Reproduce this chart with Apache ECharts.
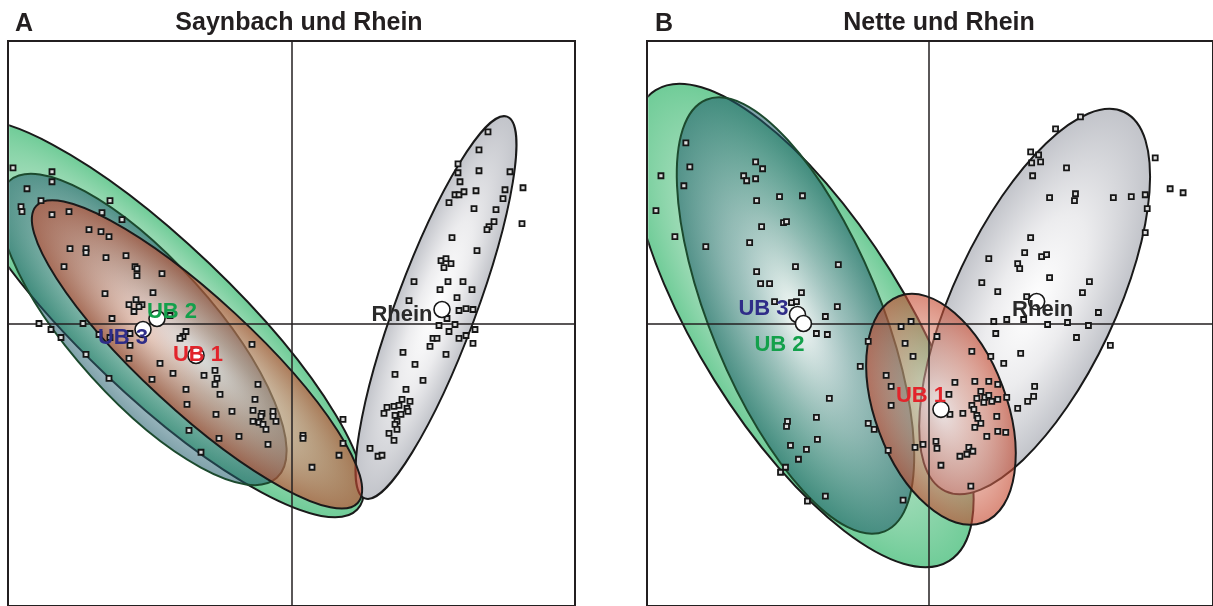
<!DOCTYPE html>
<html><head><meta charset="utf-8">
<script src="https://cdn.jsdelivr.net/npm/echarts/dist/echarts.min.js"></script>
<style>html,body{margin:0;padding:0;background:#fff}#c{width:1213px;height:606px}</style>
</head><body><div id="c"></div><script>
// ---------- DATA ----------
const panelLetters = ['A', 'B'];
const panelTitles = ['Saynbach und Rhein', 'Nette und Rhein'];
const groupNames = ['UB 1', 'UB 2', 'UB 3', 'Rhein'];

// sample scores (axis 1, axis 2)
const pointsA_UB = [[-2.79,1.56],[-2.40,1.52],[-2.40,1.42],[-2.65,1.35],[-2.51,1.23],[-2.71,1.17],[-2.70,1.12],[-1.82,1.23],[-2.40,1.09],[-2.23,1.12],[-1.90,1.11],[-1.70,1.04],[-2.03,0.94],[-1.91,0.92],[-1.83,0.87],[-2.22,0.75],[-2.06,0.75],[-2.06,0.71],[-1.86,0.66],[-1.66,0.68],[-2.28,0.57],[-1.57,0.57],[-1.55,0.55],[-1.55,0.48],[-1.30,0.50],[-1.87,0.30],[-1.39,0.31],[-1.56,0.24],[-1.63,0.19],[-1.50,0.19],[-1.53,0.17],[-1.58,0.12],[-1.22,0.08],[-1.80,0.05],[-2.53,0.00],[-2.09,0.00],[-2.41,-0.06],[-2.31,-0.14],[-1.93,-0.11],[-1.82,-0.14],[-1.62,-0.10],[-1.62,-0.22],[-1.06,-0.08],[-1.09,-0.13],[-1.12,-0.15],[-2.06,-0.31],[-1.63,-0.35],[-1.32,-0.40],[-1.19,-0.50],[-0.88,-0.52],[-0.77,-0.47],[-0.75,-0.55],[-0.77,-0.61],[-0.40,-0.21],[-0.34,-0.61],[-1.83,-0.55],[-1.40,-0.56],[-1.06,-0.66],[-0.72,-0.71],[-0.37,-0.76],[-1.05,-0.81],[-0.76,-0.91],[-0.60,-0.88],[-0.39,-0.87],[-0.30,-0.90],[-0.31,-0.93],[-0.19,-0.88],[-0.19,-0.93],[-0.16,-0.98],[-0.39,-0.98],[-0.33,-0.99],[-0.29,-1.01],[-0.26,-1.06],[-1.03,-1.07],[-0.73,-1.15],[-0.53,-1.13],[-0.24,-1.21],[-0.91,-1.29],[0.11,-1.12],[0.11,-1.15],[0.51,-0.96],[0.51,-1.20],[0.47,-1.32],[0.20,-1.44]];
const pointsA_Rhein = [[1.96,1.92],[1.87,1.74],[1.66,1.60],[1.66,1.51],[1.68,1.42],[1.87,1.53],[2.18,1.52],[1.63,1.29],[1.67,1.29],[1.72,1.32],[1.84,1.33],[2.13,1.34],[2.31,1.36],[1.57,1.21],[2.11,1.25],[1.82,1.15],[2.04,1.14],[2.02,1.02],[1.97,0.97],[1.95,0.94],[2.30,1.00],[1.60,0.86],[1.85,0.73],[1.49,0.63],[1.54,0.65],[1.52,0.56],[1.59,0.60],[1.22,0.42],[1.56,0.42],[1.71,0.42],[1.48,0.34],[1.80,0.34],[1.17,0.23],[1.65,0.26],[1.67,0.13],[1.74,0.15],[1.81,0.14],[1.55,0.05],[1.47,-0.02],[1.63,-0.01],[1.57,-0.08],[1.83,-0.06],[1.41,-0.15],[1.45,-0.15],[1.67,-0.15],[1.74,-0.12],[1.81,-0.20],[1.38,-0.23],[1.54,-0.31],[1.11,-0.29],[1.23,-0.41],[1.31,-0.57],[1.03,-0.51],[1.14,-0.66],[1.10,-0.76],[1.18,-0.78],[0.95,-0.84],[1.02,-0.83],[1.07,-0.82],[1.15,-0.85],[1.16,-0.88],[0.92,-0.90],[1.03,-0.92],[1.09,-0.91],[1.05,-0.98],[1.03,-1.01],[1.05,-1.06],[0.97,-1.10],[1.02,-1.17],[0.78,-1.25],[0.86,-1.33],[0.90,-1.32]];
const pointsB_UB = [[-2.44,1.81],[-2.40,1.57],[-2.69,1.48],[-2.46,1.38],[-2.74,1.13],[-2.55,0.87],[-2.24,0.77],[-1.74,1.62],[-1.67,1.55],[-1.86,1.48],[-1.83,1.43],[-1.74,1.45],[-1.73,1.23],[-1.50,1.27],[-1.27,1.28],[-1.68,0.97],[-1.46,1.01],[-1.43,1.02],[-1.80,0.81],[-1.73,0.52],[-1.34,0.57],[-0.91,0.59],[-1.69,0.40],[-1.60,0.40],[-1.28,0.31],[-1.55,0.22],[-1.38,0.21],[-1.33,0.22],[-0.92,0.17],[-1.04,0.07],[-1.13,-0.10],[-1.02,-0.11],[-1.00,-0.75],[-1.13,-0.94],[-1.42,-0.98],[-1.43,-1.03],[-1.39,-1.22],[-1.23,-1.26],[-1.31,-1.36],[-1.44,-1.44],[-1.49,-1.49],[-1.12,-1.16],[-1.04,-1.73],[-1.22,-1.78],
  [-0.18,0.02],[-0.28,-0.03],[-0.61,-0.18],[-0.24,-0.20],[0.08,-0.13],[-0.16,-0.33],[-0.43,-0.52],[-0.38,-0.63],[-0.38,-0.82],[0.43,-0.28],[0.26,-0.59],[0.46,-0.58],[0.60,-0.58],[0.69,-0.61],[0.20,-0.71],[0.52,-0.68],[0.48,-0.75],[0.56,-0.74],[0.60,-0.72],[0.63,-0.78],[0.55,-0.79],[0.69,-0.76],[0.43,-0.82],[0.45,-0.86],[0.48,-0.92],[0.49,-0.95],[0.34,-0.90],[0.21,-0.91],[0.68,-0.93],[0.52,-1.00],[0.46,-1.04],[0.69,-1.08],[0.77,-1.09],[0.58,-1.13],[-0.61,-1.00],[-0.55,-1.06],[-0.41,-1.27],[-0.14,-1.24],[-0.06,-1.21],[0.07,-1.18],[0.08,-1.25],[0.40,-1.24],[0.38,-1.31],[0.44,-1.28],[0.31,-1.33],[0.12,-1.42],[0.42,-1.63],[-0.26,-1.77],[-0.69,-0.43]];
const pointsB_Rhein = [[1.52,2.07],[1.27,1.95],[1.02,1.72],[1.10,1.69],[1.03,1.61],[1.12,1.62],[1.38,1.56],[1.04,1.48],[2.27,1.66],[1.21,1.26],[1.47,1.30],[1.46,1.23],[1.85,1.26],[2.03,1.27],[2.17,1.29],[2.19,1.15],[2.42,1.35],[2.55,1.31],[2.17,0.91],[1.02,0.86],[0.96,0.71],[1.13,0.67],[1.18,0.69],[0.89,0.60],[0.91,0.55],[1.21,0.46],[0.60,0.65],[0.53,0.41],[0.69,0.32],[1.61,0.42],[1.54,0.31],[0.98,0.27],[1.70,0.11],[0.65,0.02],[0.78,0.04],[0.95,0.04],[1.19,-0.01],[1.39,0.01],[1.60,-0.02],[0.67,-0.10],[1.48,-0.14],[1.82,-0.22],[0.92,-0.30],[0.75,-0.40],[0.62,-0.33],[1.06,-0.63],[1.05,-0.73],[0.99,-0.78],[0.89,-0.85],[0.78,-0.74]];

// group centroids, in groupNames order
const centroidsA = [[-0.96,-0.32],[-1.35,0.05],[-1.49,-0.06],[1.50,0.14]];
const centroidsB = [[0.12,-0.86],[-1.26,0.00],[-1.32,0.09],[1.08,0.22]];

// confidence ellipses: [centreX, centreY, semiMajor, semiMinor, angleDeg], groupNames order
const ellipsesA = [[-0.95,-0.31,2.19,0.56,-42.8],[-1.35,0.05,2.77,0.76,-43.7],[-1.49,-0.06,2.00,0.70,-48],[1.44,0.16,2.04,0.40,69.6]];
const ellipsesB = [[0.12,-0.86,1.21,0.66,-69.5],[-1.27,-0.02,2.78,1.04,-58],[-1.34,0.08,2.34,0.85,-67.5],[1.06,0.22,2.10,0.81,64.7]];

// ---------- STYLE ----------
const FONT = '"Liberation Sans", Arial, Helvetica, sans-serif';
const groupStyle = {
  'UB 1': {stops:[[0,'rgba(252,240,238,0.6)'],[0.45,'rgba(226,150,130,0.5)'],[1,'rgba(196,70,44,0.62)']], stroke:'#1a1a1a', label:'#e2242b'},
  'UB 2': {stops:[[0,'#f2f8f3'],[0.45,'#c6e8d1'],[1,'#70cc98']], stroke:'#1a1a1a', label:'#13a04b'},
  'UB 3': {stops:[[0,'rgba(255,255,255,0.5)'],[0.5,'rgba(70,120,140,0.38)'],[1,'rgba(28,90,104,0.56)']], stroke:'#1c4a2e', label:'#2f2d88'},
  'Rhein': {stops:[[0,'#ffffff'],[0.45,'#ececee'],[1,'#c2c4ca']], stroke:'#1a1a1a', label:'#2a2a2a'}
};
const drawOrder = [1, 2, 3, 0];
const centroidOrderA = [1, 2, 0, 3];
const centroidOrderB = [2, 1, 0, 3];
const labelOffsetA = [[2,-1],[15,-7],[-20,8],[-40,5]];
const labelOffsetB = [[-20,-13],[-24,21],[-34,-6],[6,8]];

const chart = echarts.init(document.getElementById('c'), null, {renderer:'canvas'});

function ellipseSeries(gi, ellipses) {
  return {
    type:'custom', coordinateSystem:'cartesian2d', xAxisIndex:gi, yAxisIndex:gi, z:1, silent:true,
    data: drawOrder.map(i => ({name: groupNames[i], value: ellipses[i]})),
    renderItem: function (params, api) {
      const name = groupNames[drawOrder[params.dataIndex]];
      const st = groupStyle[name];
      const cx = api.value(0), cy = api.value(1), a = api.value(2), b = api.value(3);
      const ang = api.value(4) * Math.PI / 180;
      const c = api.coord([cx, cy]);
      const pa = api.coord([cx + a * Math.cos(ang), cy + a * Math.sin(ang)]);
      const pb = api.coord([cx - b * Math.sin(ang), cy + b * Math.cos(ang)]);
      const rx = Math.hypot(pa[0] - c[0], pa[1] - c[1]);
      const ry = Math.hypot(pb[0] - c[0], pb[1] - c[1]);
      const rot = Math.atan2(-(pa[1] - c[1]), pa[0] - c[0]);
      const cs = params.coordSys;
      const fill = new echarts.graphic.RadialGradient(0.5, 0.5, 0.5,
        st.stops.map(s => ({offset: s[0], color: s[1]})));
      return {
        type:'group',
        clipPath: {type:'rect', shape:{x: cs.x + 1.2, y: cs.y + 1.2, width: cs.width - 2.4, height: cs.height - 2.4}},
        children: [
          {type:'circle', x:c[0], y:c[1], rotation:rot, scaleX: rx / ry, scaleY: 1,
           shape:{cx:0, cy:0, r:ry}, style: {fill: fill}},
          {type:'ellipse', x:c[0], y:c[1], rotation:rot,
           shape:{cx:0, cy:0, rx:rx, ry:ry}, style:{fill:'none', stroke: st.stroke, lineWidth: 2}}
        ]
      };
    }
  };
}

function pointSeries(gi, pts) {
  return {type:'scatter', xAxisIndex:gi, yAxisIndex:gi, z:4, silent:true, symbol:'rect', symbolSize:5,
    itemStyle:{color:'#dcdcdc', borderColor:'#161616', borderWidth:1.8, opacity:1}, data: pts};
}

function centroidSeries(gi, cents, order, offsets) {
  return {type:'scatter', xAxisIndex:gi, yAxisIndex:gi, z:5, silent:true, symbol:'circle', symbolSize:16,
    itemStyle:{color:'#ffffff', borderColor:'#161616', borderWidth:1.6, opacity:1},
    data: order.map(i => ({name: groupNames[i], value: cents[i],
      label:{color: groupStyle[groupNames[i]].label, offset: offsets[i]}})),
    label:{show:true, position:'inside', formatter: p => p.name, fontSize:22, fontWeight:'bold', fontFamily: FONT}
  };
}

const axisCommon = {
  type:'value', axisTick:{show:false}, axisLabel:{show:false}, splitLine:{show:false}, z:3,
  axisLine:{show:true, onZero:true, lineStyle:{color:'#231f20', width:1.5}}
};

const option = {
  backgroundColor:'#ffffff',
  animation:false,
  title: [
    {text: panelLetters[0], left: 15, top: 12, padding:0, textStyle:{fontSize:25, fontWeight:'bold', color:'#231f20', fontFamily:FONT}},
    {text: panelTitles[0], left: 299, top: 11, padding:0, textAlign:'center', textStyle:{fontSize:25, fontWeight:'bold', color:'#231f20', fontFamily:FONT}},
    {text: panelLetters[1], left: 655, top: 12, padding:0, textStyle:{fontSize:25, fontWeight:'bold', color:'#231f20', fontFamily:FONT}},
    {text: panelTitles[1], left: 939, top: 11, padding:0, textAlign:'center', textStyle:{fontSize:25, fontWeight:'bold', color:'#231f20', fontFamily:FONT}}
  ],
  grid: [
    {left:8, top:41, width:567, height:566, show:true, backgroundColor:'#ffffff', borderColor:'#231f20', borderWidth:2},
    {left:647, top:41, width:568, height:566, show:true, backgroundColor:'#ffffff', borderColor:'#231f20', borderWidth:2}
  ],
  xAxis: [
    Object.assign({}, axisCommon, {gridIndex:0, min:-2.84, max:2.83}),
    Object.assign({}, axisCommon, {gridIndex:1, min:-2.83, max:2.85})
  ],
  yAxis: [
    Object.assign({}, axisCommon, {gridIndex:0, min:-2.83, max:2.83}),
    Object.assign({}, axisCommon, {gridIndex:1, min:-2.83, max:2.83})
  ],
  series: [
    ellipseSeries(0, ellipsesA),
    ellipseSeries(1, ellipsesB),
    pointSeries(0, pointsA_UB),
    pointSeries(0, pointsA_Rhein),
    pointSeries(1, pointsB_UB),
    pointSeries(1, pointsB_Rhein),
    centroidSeries(0, centroidsA, centroidOrderA, labelOffsetA),
    centroidSeries(1, centroidsB, centroidOrderB, labelOffsetB)
  ]
};
chart.setOption(option);
</script></body></html>
